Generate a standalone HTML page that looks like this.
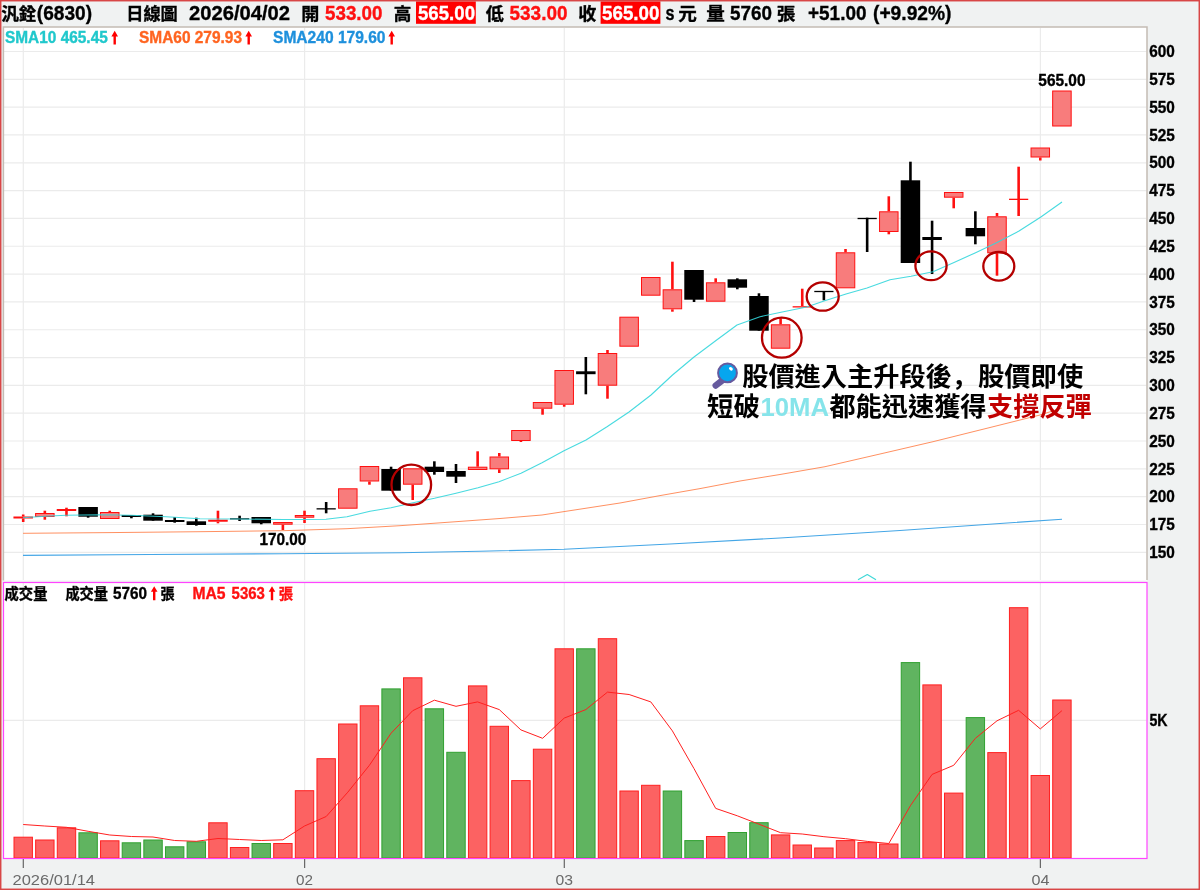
<!DOCTYPE html>
<html lang="zh-Hant"><head><meta charset="utf-8"><title>汎銓(6830) 日線圖</title>
<style>
html,body{margin:0;padding:0;background:#f0f2f2;}
body{width:1200px;height:890px;position:relative;overflow:hidden;font-family:"Liberation Sans","Noto Sans CJK TC",sans-serif;}
svg text{font-family:"Liberation Sans","Noto Sans CJK TC",sans-serif;}
</style></head><body>
<svg width="1200" height="890" viewBox="0 0 1200 890" style="position:absolute;left:0;top:0">
<rect x="0" y="0" width="1200" height="890" fill="#f0f2f2"/>
<rect x="3.5" y="27" width="1143.5" height="553.5" fill="#fff"/>
<rect x="3.5" y="582" width="1143.5" height="276" fill="#fff"/>
<line x1="4" x2="1146.5" y1="552.31" y2="552.31" stroke="#ebebeb" stroke-width="1.2"/>
<line x1="4" x2="1146.5" y1="524.48" y2="524.48" stroke="#ebebeb" stroke-width="1.2"/>
<line x1="4" x2="1146.5" y1="496.66" y2="496.66" stroke="#ebebeb" stroke-width="1.2"/>
<line x1="4" x2="1146.5" y1="468.84" y2="468.84" stroke="#ebebeb" stroke-width="1.2"/>
<line x1="4" x2="1146.5" y1="441.01" y2="441.01" stroke="#ebebeb" stroke-width="1.2"/>
<line x1="4" x2="1146.5" y1="413.19" y2="413.19" stroke="#ebebeb" stroke-width="1.2"/>
<line x1="4" x2="1146.5" y1="385.37" y2="385.37" stroke="#ebebeb" stroke-width="1.2"/>
<line x1="4" x2="1146.5" y1="357.55" y2="357.55" stroke="#ebebeb" stroke-width="1.2"/>
<line x1="4" x2="1146.5" y1="329.73" y2="329.73" stroke="#ebebeb" stroke-width="1.2"/>
<line x1="4" x2="1146.5" y1="301.90" y2="301.90" stroke="#ebebeb" stroke-width="1.2"/>
<line x1="4" x2="1146.5" y1="274.08" y2="274.08" stroke="#ebebeb" stroke-width="1.2"/>
<line x1="4" x2="1146.5" y1="246.26" y2="246.26" stroke="#ebebeb" stroke-width="1.2"/>
<line x1="4" x2="1146.5" y1="218.44" y2="218.44" stroke="#ebebeb" stroke-width="1.2"/>
<line x1="4" x2="1146.5" y1="190.61" y2="190.61" stroke="#ebebeb" stroke-width="1.2"/>
<line x1="4" x2="1146.5" y1="162.79" y2="162.79" stroke="#ebebeb" stroke-width="1.2"/>
<line x1="4" x2="1146.5" y1="134.97" y2="134.97" stroke="#ebebeb" stroke-width="1.2"/>
<line x1="4" x2="1146.5" y1="107.15" y2="107.15" stroke="#ebebeb" stroke-width="1.2"/>
<line x1="4" x2="1146.5" y1="79.32" y2="79.32" stroke="#ebebeb" stroke-width="1.2"/>
<line x1="4" x2="1146.5" y1="51.50" y2="51.50" stroke="#ebebeb" stroke-width="1.2"/>
<line x1="4" x2="1146.5" y1="720.3" y2="720.3" stroke="#ebebeb" stroke-width="1.2"/>
<line x1="23.30" x2="23.30" y1="28" y2="580" stroke="#ebebeb" stroke-width="1.2"/>
<line x1="23.30" x2="23.30" y1="583" y2="857.5" stroke="#ebebeb" stroke-width="1.2"/>
<line x1="23.30" x2="23.30" y1="858.5" y2="868" stroke="#666" stroke-width="1.2"/>
<line x1="304.62" x2="304.62" y1="28" y2="580" stroke="#ebebeb" stroke-width="1.2"/>
<line x1="304.62" x2="304.62" y1="583" y2="857.5" stroke="#ebebeb" stroke-width="1.2"/>
<line x1="304.62" x2="304.62" y1="858.5" y2="868" stroke="#666" stroke-width="1.2"/>
<line x1="564.30" x2="564.30" y1="28" y2="580" stroke="#ebebeb" stroke-width="1.2"/>
<line x1="564.30" x2="564.30" y1="583" y2="857.5" stroke="#ebebeb" stroke-width="1.2"/>
<line x1="564.30" x2="564.30" y1="858.5" y2="868" stroke="#666" stroke-width="1.2"/>
<line x1="1040.38" x2="1040.38" y1="28" y2="580" stroke="#ebebeb" stroke-width="1.2"/>
<line x1="1040.38" x2="1040.38" y1="583" y2="857.5" stroke="#ebebeb" stroke-width="1.2"/>
<line x1="1040.38" x2="1040.38" y1="858.5" y2="868" stroke="#666" stroke-width="1.2"/>
<path d="M3.4 580.5 V27 H1147 V580" fill="none" stroke="#c4bcb4" stroke-width="1.5"/>
<rect x="3.5" y="582.5" width="1143.5" height="276" fill="none" stroke="#ff44ff" stroke-width="1.2"/>
<polyline fill="none" stroke="#44a6e6" stroke-width="1.15" stroke-linejoin="round" points="23.0,555.3 150.0,554.5 283.0,553.7 400.0,552.7 480.0,551.2 564.0,549.3 670.0,544.0 780.0,538.0 900.0,530.5 1000.0,523.5 1062.0,519.3"/>
<polyline fill="none" stroke="#ff8a58" stroke-width="0.95" stroke-linejoin="round" points="23.0,533.3 110.0,532.6 200.0,531.7 283.0,530.7 347.0,528.7 400.0,525.7 456.0,521.7 500.0,518.5 542.0,515.0 564.0,511.6 620.0,503.0 660.0,495.6 700.0,488.6 740.0,481.0 780.0,474.5 825.0,466.7 880.0,454.0 933.0,441.7 990.0,427.5 1040.0,415.0 1062.0,408.0"/>
<line x1="23.20" x2="23.20" y1="514.50" y2="516.50" stroke="#ff1010" stroke-width="2.6"/>
<line x1="23.20" x2="23.20" y1="518.50" y2="522.00" stroke="#ff1010" stroke-width="2.6"/>
<rect x="13.95" y="517.00" width="18.5" height="1.00" fill="#f87c7c" stroke="#ff1010" stroke-width="1"/>
<line x1="44.84" x2="44.84" y1="510.70" y2="513.00" stroke="#ff1010" stroke-width="2.6"/>
<line x1="44.84" x2="44.84" y1="517.00" y2="519.70" stroke="#ff1010" stroke-width="2.6"/>
<rect x="35.59" y="513.50" width="18.5" height="3.00" fill="#f87c7c" stroke="#ff1010" stroke-width="1"/>
<line x1="66.48" x2="66.48" y1="507.70" y2="509.00" stroke="#ff1010" stroke-width="2.6"/>
<line x1="66.48" x2="66.48" y1="511.00" y2="516.30" stroke="#ff1010" stroke-width="2.6"/>
<rect x="57.23" y="509.50" width="18.5" height="1.00" fill="#f87c7c" stroke="#ff1010" stroke-width="1"/>
<line x1="88.12" x2="88.12" y1="507.00" y2="517.70" stroke="#000" stroke-width="2.6"/>
<rect x="78.37" y="507.00" width="19.5" height="9.70" fill="#000"/>
<line x1="109.76" x2="109.76" y1="510.70" y2="512.00" stroke="#ff1010" stroke-width="2.6"/>
<rect x="100.51" y="512.50" width="18.5" height="6.00" fill="#f87c7c" stroke="#ff1010" stroke-width="1"/>
<line x1="131.40" x2="131.40" y1="515.00" y2="518.30" stroke="#000" stroke-width="2.6"/>
<rect x="121.65" y="515.00" width="19.5" height="2.00" fill="#000"/>
<line x1="153.04" x2="153.04" y1="513.30" y2="520.70" stroke="#000" stroke-width="2.6"/>
<rect x="143.29" y="514.70" width="19.5" height="6.00" fill="#000"/>
<line x1="174.68" x2="174.68" y1="517.00" y2="522.70" stroke="#000" stroke-width="2.6"/>
<rect x="164.93" y="520.00" width="19.5" height="2.00" fill="#000"/>
<line x1="196.32" x2="196.32" y1="517.70" y2="525.70" stroke="#000" stroke-width="2.6"/>
<rect x="186.57" y="521.30" width="19.5" height="3.70" fill="#000"/>
<line x1="217.96" x2="217.96" y1="510.70" y2="519.70" stroke="#ff1010" stroke-width="2.6"/>
<line x1="217.96" x2="217.96" y1="521.70" y2="523.30" stroke="#ff1010" stroke-width="2.6"/>
<rect x="208.71" y="520.20" width="18.5" height="1.00" fill="#f87c7c" stroke="#ff1010" stroke-width="1"/>
<line x1="239.60" x2="239.60" y1="515.70" y2="521.00" stroke="#000" stroke-width="2.6"/>
<line x1="230.00" x2="249.20" y1="518.85" y2="518.85" stroke="#000" stroke-width="1.3"/>
<line x1="261.24" x2="261.24" y1="517.00" y2="524.30" stroke="#000" stroke-width="2.6"/>
<rect x="251.49" y="517.00" width="19.5" height="6.30" fill="#000"/>
<line x1="282.88" x2="282.88" y1="524.70" y2="530.00" stroke="#ff1010" stroke-width="2.6"/>
<rect x="273.63" y="522.50" width="18.5" height="1.70" fill="#f87c7c" stroke="#ff1010" stroke-width="1"/>
<line x1="304.52" x2="304.52" y1="510.70" y2="515.00" stroke="#ff1010" stroke-width="2.6"/>
<line x1="304.52" x2="304.52" y1="517.70" y2="523.00" stroke="#ff1010" stroke-width="2.6"/>
<rect x="295.27" y="515.50" width="18.5" height="1.70" fill="#f87c7c" stroke="#ff1010" stroke-width="1"/>
<line x1="326.16" x2="326.16" y1="502.00" y2="513.30" stroke="#000" stroke-width="2.6"/>
<line x1="316.56" x2="335.76" y1="508.85" y2="508.85" stroke="#000" stroke-width="1.3"/>
<rect x="338.55" y="488.80" width="18.5" height="19.40" fill="#f87c7c" stroke="#ff1010" stroke-width="1"/>
<line x1="369.44" x2="369.44" y1="481.50" y2="484.70" stroke="#ff1010" stroke-width="2.6"/>
<rect x="360.19" y="466.50" width="18.5" height="14.50" fill="#f87c7c" stroke="#ff1010" stroke-width="1"/>
<line x1="391.08" x2="391.08" y1="466.70" y2="490.70" stroke="#000" stroke-width="2.6"/>
<rect x="381.33" y="469.00" width="19.5" height="21.70" fill="#000"/>
<line x1="412.72" x2="412.72" y1="484.70" y2="500.00" stroke="#ff1010" stroke-width="2.6"/>
<rect x="403.47" y="468.80" width="18.5" height="15.40" fill="#f87c7c" stroke="#ff1010" stroke-width="1"/>
<line x1="434.36" x2="434.36" y1="461.30" y2="474.70" stroke="#000" stroke-width="2.6"/>
<rect x="424.61" y="466.70" width="19.5" height="5.30" fill="#000"/>
<line x1="456.00" x2="456.00" y1="464.00" y2="483.00" stroke="#000" stroke-width="2.6"/>
<rect x="446.25" y="471.00" width="19.5" height="5.70" fill="#000"/>
<line x1="477.64" x2="477.64" y1="451.30" y2="466.70" stroke="#ff1010" stroke-width="2.6"/>
<rect x="468.39" y="467.20" width="18.5" height="2.30" fill="#f87c7c" stroke="#ff1010" stroke-width="1"/>
<line x1="499.28" x2="499.28" y1="453.00" y2="456.50" stroke="#ff1010" stroke-width="2.6"/>
<line x1="499.28" x2="499.28" y1="469.30" y2="473.00" stroke="#ff1010" stroke-width="2.6"/>
<rect x="490.03" y="457.00" width="18.5" height="11.80" fill="#f87c7c" stroke="#ff1010" stroke-width="1"/>
<line x1="520.92" x2="520.92" y1="441.00" y2="442.00" stroke="#ff1010" stroke-width="2.6"/>
<rect x="511.67" y="430.50" width="18.5" height="10.00" fill="#f87c7c" stroke="#ff1010" stroke-width="1"/>
<line x1="542.56" x2="542.56" y1="408.70" y2="414.70" stroke="#ff1010" stroke-width="2.6"/>
<rect x="533.31" y="402.50" width="18.5" height="5.70" fill="#f87c7c" stroke="#ff1010" stroke-width="1"/>
<line x1="564.20" x2="564.20" y1="404.70" y2="406.70" stroke="#ff1010" stroke-width="2.6"/>
<rect x="554.95" y="370.50" width="18.5" height="33.70" fill="#f87c7c" stroke="#ff1010" stroke-width="1"/>
<line x1="585.84" x2="585.84" y1="357.00" y2="394.30" stroke="#000" stroke-width="2.6"/>
<rect x="576.09" y="371.30" width="19.5" height="2.90" fill="#000"/>
<line x1="607.48" x2="607.48" y1="350.00" y2="353.00" stroke="#ff1010" stroke-width="2.6"/>
<line x1="607.48" x2="607.48" y1="385.70" y2="398.70" stroke="#ff1010" stroke-width="2.6"/>
<rect x="598.23" y="353.50" width="18.5" height="31.70" fill="#f87c7c" stroke="#ff1010" stroke-width="1"/>
<rect x="619.87" y="317.20" width="18.5" height="29.00" fill="#f87c7c" stroke="#ff1010" stroke-width="1"/>
<rect x="641.51" y="277.50" width="18.5" height="17.70" fill="#f87c7c" stroke="#ff1010" stroke-width="1"/>
<line x1="672.40" x2="672.40" y1="261.70" y2="289.30" stroke="#ff1010" stroke-width="2.6"/>
<line x1="672.40" x2="672.40" y1="309.30" y2="311.70" stroke="#ff1010" stroke-width="2.6"/>
<rect x="663.15" y="289.80" width="18.5" height="19.00" fill="#f87c7c" stroke="#ff1010" stroke-width="1"/>
<line x1="694.04" x2="694.04" y1="270.00" y2="302.00" stroke="#000" stroke-width="2.6"/>
<rect x="684.29" y="270.00" width="19.5" height="29.70" fill="#000"/>
<line x1="715.68" x2="715.68" y1="278.30" y2="282.30" stroke="#ff1010" stroke-width="2.6"/>
<rect x="706.43" y="282.80" width="18.5" height="18.40" fill="#f87c7c" stroke="#ff1010" stroke-width="1"/>
<line x1="737.32" x2="737.32" y1="278.30" y2="289.30" stroke="#000" stroke-width="2.6"/>
<rect x="727.57" y="279.30" width="19.5" height="8.40" fill="#000"/>
<line x1="758.96" x2="758.96" y1="293.30" y2="330.70" stroke="#000" stroke-width="2.6"/>
<rect x="749.21" y="296.00" width="19.5" height="34.70" fill="#000"/>
<line x1="780.60" x2="780.60" y1="318.30" y2="324.30" stroke="#ff1010" stroke-width="2.6"/>
<rect x="771.35" y="324.80" width="18.5" height="23.40" fill="#f87c7c" stroke="#ff1010" stroke-width="1"/>
<line x1="802.24" x2="802.24" y1="288.70" y2="306.00" stroke="#ff1010" stroke-width="2.6"/>
<line x1="792.64" x2="811.84" y1="306.85" y2="306.85" stroke="#ff1010" stroke-width="1.3"/>
<line x1="823.88" x2="823.88" y1="291.00" y2="300.30" stroke="#000" stroke-width="2.6"/>
<line x1="814.28" x2="833.48" y1="291.50" y2="291.50" stroke="#000" stroke-width="1.3"/>
<line x1="845.52" x2="845.52" y1="249.00" y2="252.30" stroke="#ff1010" stroke-width="2.6"/>
<rect x="836.27" y="252.80" width="18.5" height="35.00" fill="#f87c7c" stroke="#ff1010" stroke-width="1"/>
<line x1="867.16" x2="867.16" y1="217.70" y2="252.00" stroke="#000" stroke-width="2.6"/>
<line x1="857.56" x2="876.76" y1="218.50" y2="218.50" stroke="#000" stroke-width="1.3"/>
<line x1="888.80" x2="888.80" y1="196.30" y2="211.30" stroke="#ff1010" stroke-width="2.6"/>
<line x1="888.80" x2="888.80" y1="232.00" y2="234.30" stroke="#ff1010" stroke-width="2.6"/>
<rect x="879.55" y="211.80" width="18.5" height="19.70" fill="#f87c7c" stroke="#ff1010" stroke-width="1"/>
<line x1="910.44" x2="910.44" y1="161.70" y2="263.00" stroke="#000" stroke-width="2.6"/>
<rect x="900.69" y="180.30" width="19.5" height="82.70" fill="#000"/>
<line x1="932.08" x2="932.08" y1="220.70" y2="274.00" stroke="#000" stroke-width="2.6"/>
<rect x="922.33" y="237.00" width="19.5" height="3.00" fill="#000"/>
<line x1="953.72" x2="953.72" y1="197.70" y2="208.30" stroke="#ff1010" stroke-width="2.6"/>
<rect x="944.47" y="192.50" width="18.5" height="4.70" fill="#f87c7c" stroke="#ff1010" stroke-width="1"/>
<line x1="975.36" x2="975.36" y1="211.30" y2="244.30" stroke="#000" stroke-width="2.6"/>
<rect x="965.61" y="228.00" width="19.5" height="8.30" fill="#000"/>
<line x1="997.00" x2="997.00" y1="213.00" y2="216.30" stroke="#ff1010" stroke-width="2.6"/>
<line x1="997.00" x2="997.00" y1="253.30" y2="275.70" stroke="#ff1010" stroke-width="2.6"/>
<rect x="987.75" y="216.80" width="18.5" height="36.00" fill="#f87c7c" stroke="#ff1010" stroke-width="1"/>
<line x1="1018.64" x2="1018.64" y1="166.70" y2="199.00" stroke="#ff1010" stroke-width="2.6"/>
<line x1="1018.64" x2="1018.64" y1="199.70" y2="216.00" stroke="#ff1010" stroke-width="2.6"/>
<line x1="1009.04" x2="1028.24" y1="199.35" y2="199.35" stroke="#ff1010" stroke-width="1.3"/>
<line x1="1040.28" x2="1040.28" y1="157.50" y2="160.50" stroke="#ff1010" stroke-width="2.6"/>
<rect x="1031.03" y="148.00" width="18.5" height="9.00" fill="#f87c7c" stroke="#ff1010" stroke-width="1"/>
<rect x="1052.67" y="91.00" width="18.5" height="35.00" fill="#f87c7c" stroke="#ff1010" stroke-width="1"/>
<g opacity="0.9">
<polyline fill="none" stroke="#34d6dc" stroke-width="1.10" stroke-linejoin="round" points="23.0,517.7 45.0,516.3 66.0,515.3 100.0,514.7 131.0,515.3 166.0,516.7 200.0,518.7 240.0,519.0 283.0,519.5 305.0,519.5 326.0,519.3 347.0,516.7 370.0,511.3 391.0,507.8 413.0,502.7 434.5,498.3 456.0,493.3 478.0,487.8 499.0,481.7 521.0,473.3 542.0,462.7 564.0,450.7 586.0,440.0 607.0,426.7 629.0,412.0 651.0,395.0 672.5,375.0 694.0,357.0 716.0,340.5 737.0,325.0 760.0,316.7 781.0,312.3 806.7,307.0 824.0,301.0 846.0,294.0 867.0,288.0 890.0,279.7 911.0,276.3 933.0,271.7 954.0,262.5 975.6,252.7 997.0,242.5 1019.0,231.0 1040.5,217.3 1062.0,202.0"/>
</g>
<polyline fill="none" stroke="#40d8d8" stroke-width="1.20" stroke-linejoin="round" points="858.0,579.7 867.3,574.5 876.0,579.7"/>
<rect x="14.00" y="837.20" width="18.4" height="20.90" fill="#fc6262" stroke="#ff2020" stroke-width="1"/>
<rect x="35.64" y="840.00" width="18.4" height="18.10" fill="#fc6262" stroke="#ff2020" stroke-width="1"/>
<rect x="57.28" y="827.80" width="18.4" height="30.30" fill="#fc6262" stroke="#ff2020" stroke-width="1"/>
<rect x="78.92" y="832.80" width="18.4" height="25.30" fill="#60b460" stroke="#30a030" stroke-width="1"/>
<rect x="100.56" y="840.80" width="18.4" height="17.30" fill="#fc6262" stroke="#ff2020" stroke-width="1"/>
<rect x="122.20" y="842.80" width="18.4" height="15.30" fill="#60b460" stroke="#30a030" stroke-width="1"/>
<rect x="143.84" y="840.00" width="18.4" height="18.10" fill="#60b460" stroke="#30a030" stroke-width="1"/>
<rect x="165.48" y="846.80" width="18.4" height="11.30" fill="#60b460" stroke="#30a030" stroke-width="1"/>
<rect x="187.12" y="841.80" width="18.4" height="16.30" fill="#60b460" stroke="#30a030" stroke-width="1"/>
<rect x="208.76" y="822.80" width="18.4" height="35.30" fill="#fc6262" stroke="#ff2020" stroke-width="1"/>
<rect x="230.40" y="847.50" width="18.4" height="10.60" fill="#fc6262" stroke="#ff2020" stroke-width="1"/>
<rect x="252.04" y="843.50" width="18.4" height="14.60" fill="#60b460" stroke="#30a030" stroke-width="1"/>
<rect x="273.68" y="843.50" width="18.4" height="14.60" fill="#fc6262" stroke="#ff2020" stroke-width="1"/>
<rect x="295.32" y="790.70" width="18.4" height="67.40" fill="#fc6262" stroke="#ff2020" stroke-width="1"/>
<rect x="316.96" y="758.70" width="18.4" height="99.40" fill="#fc6262" stroke="#ff2020" stroke-width="1"/>
<rect x="338.60" y="724.00" width="18.4" height="134.10" fill="#fc6262" stroke="#ff2020" stroke-width="1"/>
<rect x="360.24" y="705.80" width="18.4" height="152.30" fill="#fc6262" stroke="#ff2020" stroke-width="1"/>
<rect x="381.88" y="688.90" width="18.4" height="169.20" fill="#60b460" stroke="#30a030" stroke-width="1"/>
<rect x="403.52" y="677.80" width="18.4" height="180.30" fill="#fc6262" stroke="#ff2020" stroke-width="1"/>
<rect x="425.16" y="708.80" width="18.4" height="149.30" fill="#60b460" stroke="#30a030" stroke-width="1"/>
<rect x="446.80" y="752.30" width="18.4" height="105.80" fill="#60b460" stroke="#30a030" stroke-width="1"/>
<rect x="468.44" y="685.90" width="18.4" height="172.20" fill="#fc6262" stroke="#ff2020" stroke-width="1"/>
<rect x="490.08" y="726.30" width="18.4" height="131.80" fill="#fc6262" stroke="#ff2020" stroke-width="1"/>
<rect x="511.72" y="780.60" width="18.4" height="77.50" fill="#fc6262" stroke="#ff2020" stroke-width="1"/>
<rect x="533.36" y="749.20" width="18.4" height="108.90" fill="#fc6262" stroke="#ff2020" stroke-width="1"/>
<rect x="555.00" y="648.80" width="18.4" height="209.30" fill="#fc6262" stroke="#ff2020" stroke-width="1"/>
<rect x="576.64" y="648.80" width="18.4" height="209.30" fill="#60b460" stroke="#30a030" stroke-width="1"/>
<rect x="598.28" y="638.70" width="18.4" height="219.40" fill="#fc6262" stroke="#ff2020" stroke-width="1"/>
<rect x="619.92" y="791.00" width="18.4" height="67.10" fill="#fc6262" stroke="#ff2020" stroke-width="1"/>
<rect x="641.56" y="785.30" width="18.4" height="72.80" fill="#fc6262" stroke="#ff2020" stroke-width="1"/>
<rect x="663.20" y="791.00" width="18.4" height="67.10" fill="#60b460" stroke="#30a030" stroke-width="1"/>
<rect x="684.84" y="840.60" width="18.4" height="17.50" fill="#60b460" stroke="#30a030" stroke-width="1"/>
<rect x="706.48" y="836.50" width="18.4" height="21.60" fill="#fc6262" stroke="#ff2020" stroke-width="1"/>
<rect x="728.12" y="832.50" width="18.4" height="25.60" fill="#60b460" stroke="#30a030" stroke-width="1"/>
<rect x="749.76" y="822.70" width="18.4" height="35.40" fill="#60b460" stroke="#30a030" stroke-width="1"/>
<rect x="771.40" y="834.90" width="18.4" height="23.20" fill="#fc6262" stroke="#ff2020" stroke-width="1"/>
<rect x="793.04" y="845.00" width="18.4" height="13.10" fill="#fc6262" stroke="#ff2020" stroke-width="1"/>
<rect x="814.68" y="848.00" width="18.4" height="10.10" fill="#fc6262" stroke="#ff2020" stroke-width="1"/>
<rect x="836.32" y="840.60" width="18.4" height="17.50" fill="#fc6262" stroke="#ff2020" stroke-width="1"/>
<rect x="857.96" y="842.60" width="18.4" height="15.50" fill="#fc6262" stroke="#ff2020" stroke-width="1"/>
<rect x="879.60" y="844.00" width="18.4" height="14.10" fill="#fc6262" stroke="#ff2020" stroke-width="1"/>
<rect x="901.24" y="662.60" width="18.4" height="195.50" fill="#60b460" stroke="#30a030" stroke-width="1"/>
<rect x="922.88" y="684.90" width="18.4" height="173.20" fill="#fc6262" stroke="#ff2020" stroke-width="1"/>
<rect x="944.52" y="793.10" width="18.4" height="65.00" fill="#fc6262" stroke="#ff2020" stroke-width="1"/>
<rect x="966.16" y="717.60" width="18.4" height="140.50" fill="#60b460" stroke="#30a030" stroke-width="1"/>
<rect x="987.80" y="752.60" width="18.4" height="105.50" fill="#fc6262" stroke="#ff2020" stroke-width="1"/>
<rect x="1009.44" y="607.70" width="18.4" height="250.40" fill="#fc6262" stroke="#ff2020" stroke-width="1"/>
<rect x="1031.08" y="775.50" width="18.4" height="82.60" fill="#fc6262" stroke="#ff2020" stroke-width="1"/>
<rect x="1052.72" y="700.00" width="18.4" height="158.10" fill="#fc6262" stroke="#ff2020" stroke-width="1"/>
<polyline fill="none" stroke="#ff2020" stroke-width="1.00" stroke-linejoin="round" points="23.2,824.5 44.8,826.0 66.5,827.3 88.1,831.3 109.8,835.0 131.4,836.5 153.0,837.0 174.7,840.5 196.3,841.3 218.0,838.5 239.6,839.5 261.2,840.5 282.9,839.8 304.5,826.0 326.2,816.5 347.8,792.2 369.4,765.3 391.1,733.2 412.7,710.7 434.4,700.2 456.0,706.3 477.6,701.9 499.3,709.6 520.9,729.9 542.6,738.3 564.2,718.1 585.8,709.6 607.5,692.1 629.1,694.5 650.8,701.9 672.4,730.9 694.0,768.6 715.7,808.4 737.3,815.8 759.0,824.2 780.6,832.7 802.2,834.0 823.9,836.7 845.5,838.7 867.2,841.4 888.8,843.5 910.4,805.7 932.1,774.4 953.7,765.3 975.4,738.3 997.0,720.8 1018.6,710.3 1040.3,728.9 1061.9,710.7"/>
<line x1="4" x2="1146.5" y1="858.5" y2="858.5" stroke="#ff44ff" stroke-width="1.2"/>
<ellipse cx="411.3" cy="484.8" rx="19.8" ry="20.2" fill="none" stroke="#b40000" stroke-width="2.3"/>
<ellipse cx="781.8" cy="337.7" rx="19.8" ry="20.0" fill="none" stroke="#b40000" stroke-width="2.3"/>
<ellipse cx="822.7" cy="296.5" rx="16.0" ry="14.2" fill="none" stroke="#b40000" stroke-width="2.3"/>
<ellipse cx="931.0" cy="265.8" rx="15.6" ry="14.4" fill="none" stroke="#b40000" stroke-width="2.3"/>
<ellipse cx="998.8" cy="266.3" rx="15.5" ry="14.3" fill="none" stroke="#b40000" stroke-width="2.3"/>
<rect x="416" y="1.4" width="59.8" height="22.4" fill="#ff0000"/>
<rect x="600.6" y="1.4" width="59.8" height="22.4" fill="#ff0000"/>
<text x="1.20" y="20.10" font-size="17.30" fill="#000" font-weight="bold" text-anchor="start" textLength="35.20" lengthAdjust="spacingAndGlyphs" stroke="#000" stroke-width="0.35">汎銓</text>
<text x="36.80" y="19.60" font-size="20.00" fill="#000" font-weight="bold" text-anchor="start" textLength="55.20" lengthAdjust="spacingAndGlyphs" stroke="#000" stroke-width="0.35">(6830)</text>
<text x="126.20" y="20.10" font-size="17.30" fill="#000" font-weight="bold" text-anchor="start" textLength="51.60" lengthAdjust="spacingAndGlyphs" stroke="#000" stroke-width="0.35">日線圖</text>
<text x="189.00" y="19.60" font-size="20.00" fill="#000" font-weight="bold" text-anchor="start" textLength="101.00" lengthAdjust="spacingAndGlyphs" stroke="#000" stroke-width="0.35">2026/04/02</text>
<text x="301.20" y="20.10" font-size="17.30" fill="#000" font-weight="bold" text-anchor="start" textLength="18.10" lengthAdjust="spacingAndGlyphs" stroke="#000" stroke-width="0.35">開</text>
<text x="325.00" y="19.60" font-size="20.00" fill="#ff1010" font-weight="bold" text-anchor="start" textLength="57.50" lengthAdjust="spacingAndGlyphs" stroke="#ff1010" stroke-width="0.35">533.00</text>
<text x="393.70" y="20.10" font-size="17.30" fill="#000" font-weight="bold" text-anchor="start" textLength="17.60" lengthAdjust="spacingAndGlyphs" stroke="#000" stroke-width="0.35">高</text>
<text x="418.00" y="19.60" font-size="20.00" fill="#fff" font-weight="bold" text-anchor="start" textLength="57.00" lengthAdjust="spacingAndGlyphs" stroke="#fff" stroke-width="0.35">565.00</text>
<text x="485.70" y="20.10" font-size="17.30" fill="#000" font-weight="bold" text-anchor="start" textLength="18.10" lengthAdjust="spacingAndGlyphs" stroke="#000" stroke-width="0.35">低</text>
<text x="509.50" y="19.60" font-size="20.00" fill="#ff1010" font-weight="bold" text-anchor="start" textLength="58.00" lengthAdjust="spacingAndGlyphs" stroke="#ff1010" stroke-width="0.35">533.00</text>
<text x="578.20" y="20.10" font-size="17.30" fill="#000" font-weight="bold" text-anchor="start" textLength="18.10" lengthAdjust="spacingAndGlyphs" stroke="#000" stroke-width="0.35">收</text>
<text x="602.00" y="19.60" font-size="20.00" fill="#fff" font-weight="bold" text-anchor="start" textLength="57.50" lengthAdjust="spacingAndGlyphs" stroke="#fff" stroke-width="0.35">565.00</text>
<text x="665.50" y="19.60" font-size="20.00" fill="#000" font-weight="bold" text-anchor="start" textLength="9.00" lengthAdjust="spacingAndGlyphs" stroke="#000" stroke-width="0.35">s</text>
<text x="678.20" y="20.10" font-size="17.30" fill="#000" font-weight="bold" text-anchor="start" textLength="18.60" lengthAdjust="spacingAndGlyphs" stroke="#000" stroke-width="0.35">元</text>
<text x="706.20" y="20.10" font-size="17.30" fill="#000" font-weight="bold" text-anchor="start" textLength="18.60" lengthAdjust="spacingAndGlyphs" stroke="#000" stroke-width="0.35">量</text>
<text x="730.00" y="19.60" font-size="20.00" fill="#000" font-weight="bold" text-anchor="start" textLength="42.00" lengthAdjust="spacingAndGlyphs" stroke="#000" stroke-width="0.35">5760</text>
<text x="776.70" y="20.10" font-size="17.30" fill="#000" font-weight="bold" text-anchor="start" textLength="18.60" lengthAdjust="spacingAndGlyphs" stroke="#000" stroke-width="0.35">張</text>
<text x="808.00" y="19.60" font-size="20.00" fill="#000" font-weight="bold" text-anchor="start" textLength="58.50" lengthAdjust="spacingAndGlyphs" stroke="#000" stroke-width="0.35">+51.00</text>
<text x="873.00" y="19.60" font-size="20.00" fill="#000" font-weight="bold" text-anchor="start" textLength="78.50" lengthAdjust="spacingAndGlyphs" stroke="#000" stroke-width="0.35">(+9.92%)</text>
<text x="5.00" y="43.10" font-size="16.20" fill="#20c8cc" font-weight="bold" text-anchor="start" textLength="102.80" lengthAdjust="spacingAndGlyphs" stroke="#20c8cc" stroke-width="0.35">SMA10 465.45</text>
<path d="M114.70 30.80 L118.00 36.40 L115.90 36.40 L115.90 44.50 L113.50 44.50 L113.50 36.40 L111.40 36.40 Z" fill="#ff0000"/>
<text x="139.00" y="43.10" font-size="16.20" fill="#ff6420" font-weight="bold" text-anchor="start" textLength="103.00" lengthAdjust="spacingAndGlyphs" stroke="#ff6420" stroke-width="0.35">SMA60 279.93</text>
<path d="M248.70 30.80 L252.00 36.40 L249.90 36.40 L249.90 44.50 L247.50 44.50 L247.50 36.40 L245.40 36.40 Z" fill="#ff0000"/>
<text x="273.00" y="43.10" font-size="16.20" fill="#1e90dc" font-weight="bold" text-anchor="start" textLength="112.50" lengthAdjust="spacingAndGlyphs" stroke="#1e90dc" stroke-width="0.35">SMA240 179.60</text>
<path d="M391.70 30.80 L395.00 36.40 L392.90 36.40 L392.90 44.50 L390.50 44.50 L390.50 36.40 L388.40 36.40 Z" fill="#ff0000"/>
<text x="1149.30" y="558.01" font-size="16.50" fill="#000" font-weight="bold" text-anchor="start" textLength="25.60" lengthAdjust="spacingAndGlyphs" stroke="#000" stroke-width="0.35">150</text>
<text x="1149.30" y="530.18" font-size="16.50" fill="#000" font-weight="bold" text-anchor="start" textLength="25.60" lengthAdjust="spacingAndGlyphs" stroke="#000" stroke-width="0.35">175</text>
<text x="1149.30" y="502.36" font-size="16.50" fill="#000" font-weight="bold" text-anchor="start" textLength="25.60" lengthAdjust="spacingAndGlyphs" stroke="#000" stroke-width="0.35">200</text>
<text x="1149.30" y="474.54" font-size="16.50" fill="#000" font-weight="bold" text-anchor="start" textLength="25.60" lengthAdjust="spacingAndGlyphs" stroke="#000" stroke-width="0.35">225</text>
<text x="1149.30" y="446.71" font-size="16.50" fill="#000" font-weight="bold" text-anchor="start" textLength="25.60" lengthAdjust="spacingAndGlyphs" stroke="#000" stroke-width="0.35">250</text>
<text x="1149.30" y="418.89" font-size="16.50" fill="#000" font-weight="bold" text-anchor="start" textLength="25.60" lengthAdjust="spacingAndGlyphs" stroke="#000" stroke-width="0.35">275</text>
<text x="1149.30" y="391.07" font-size="16.50" fill="#000" font-weight="bold" text-anchor="start" textLength="25.60" lengthAdjust="spacingAndGlyphs" stroke="#000" stroke-width="0.35">300</text>
<text x="1149.30" y="363.25" font-size="16.50" fill="#000" font-weight="bold" text-anchor="start" textLength="25.60" lengthAdjust="spacingAndGlyphs" stroke="#000" stroke-width="0.35">325</text>
<text x="1149.30" y="335.43" font-size="16.50" fill="#000" font-weight="bold" text-anchor="start" textLength="25.60" lengthAdjust="spacingAndGlyphs" stroke="#000" stroke-width="0.35">350</text>
<text x="1149.30" y="307.60" font-size="16.50" fill="#000" font-weight="bold" text-anchor="start" textLength="25.60" lengthAdjust="spacingAndGlyphs" stroke="#000" stroke-width="0.35">375</text>
<text x="1149.30" y="279.78" font-size="16.50" fill="#000" font-weight="bold" text-anchor="start" textLength="25.60" lengthAdjust="spacingAndGlyphs" stroke="#000" stroke-width="0.35">400</text>
<text x="1149.30" y="251.96" font-size="16.50" fill="#000" font-weight="bold" text-anchor="start" textLength="25.60" lengthAdjust="spacingAndGlyphs" stroke="#000" stroke-width="0.35">425</text>
<text x="1149.30" y="224.13" font-size="16.50" fill="#000" font-weight="bold" text-anchor="start" textLength="25.60" lengthAdjust="spacingAndGlyphs" stroke="#000" stroke-width="0.35">450</text>
<text x="1149.30" y="196.31" font-size="16.50" fill="#000" font-weight="bold" text-anchor="start" textLength="25.60" lengthAdjust="spacingAndGlyphs" stroke="#000" stroke-width="0.35">475</text>
<text x="1149.30" y="168.49" font-size="16.50" fill="#000" font-weight="bold" text-anchor="start" textLength="25.60" lengthAdjust="spacingAndGlyphs" stroke="#000" stroke-width="0.35">500</text>
<text x="1149.30" y="140.67" font-size="16.50" fill="#000" font-weight="bold" text-anchor="start" textLength="25.60" lengthAdjust="spacingAndGlyphs" stroke="#000" stroke-width="0.35">525</text>
<text x="1149.30" y="112.85" font-size="16.50" fill="#000" font-weight="bold" text-anchor="start" textLength="25.60" lengthAdjust="spacingAndGlyphs" stroke="#000" stroke-width="0.35">550</text>
<text x="1149.30" y="85.02" font-size="16.50" fill="#000" font-weight="bold" text-anchor="start" textLength="25.60" lengthAdjust="spacingAndGlyphs" stroke="#000" stroke-width="0.35">575</text>
<text x="1149.30" y="57.20" font-size="16.50" fill="#000" font-weight="bold" text-anchor="start" textLength="25.60" lengthAdjust="spacingAndGlyphs" stroke="#000" stroke-width="0.35">600</text>
<text x="1149.50" y="726.00" font-size="16.50" fill="#000" font-weight="bold" text-anchor="start" textLength="18.10" lengthAdjust="spacingAndGlyphs" stroke="#000" stroke-width="0.35">5K</text>
<text x="1038.30" y="86.20" font-size="15.90" fill="#000" font-weight="bold" text-anchor="start" textLength="47.20" lengthAdjust="spacingAndGlyphs" stroke="#000" stroke-width="0.35">565.00</text>
<text x="259.40" y="544.80" font-size="15.90" fill="#000" font-weight="bold" text-anchor="start" textLength="46.90" lengthAdjust="spacingAndGlyphs" stroke="#000" stroke-width="0.35">170.00</text>
<text x="4.60" y="598.70" font-size="14.50" fill="#000" font-weight="bold" text-anchor="start" textLength="42.80" lengthAdjust="spacingAndGlyphs" stroke="#000" stroke-width="0.35">成交量</text>
<text x="65.40" y="598.70" font-size="14.50" fill="#000" font-weight="bold" text-anchor="start" textLength="42.60" lengthAdjust="spacingAndGlyphs" stroke="#000" stroke-width="0.35">成交量</text>
<text x="113.00" y="599.10" font-size="15.60" fill="#000" font-weight="bold" text-anchor="start" textLength="34.00" lengthAdjust="spacingAndGlyphs" stroke="#000" stroke-width="0.35">5760</text>
<path d="M154.20 586.20 L157.50 591.80 L155.40 591.80 L155.40 600.30 L153.00 600.30 L153.00 591.80 L150.90 591.80 Z" fill="#ff0000"/>
<text x="160.50" y="598.70" font-size="14.50" fill="#000" font-weight="bold" text-anchor="start" textLength="14.10" lengthAdjust="spacingAndGlyphs" stroke="#000" stroke-width="0.35">張</text>
<text x="192.50" y="599.10" font-size="15.60" fill="#ff1010" font-weight="bold" text-anchor="start" textLength="33.10" lengthAdjust="spacingAndGlyphs" stroke="#ff1010" stroke-width="0.35">MA5</text>
<text x="231.60" y="599.10" font-size="15.60" fill="#ff1010" font-weight="bold" text-anchor="start" textLength="33.20" lengthAdjust="spacingAndGlyphs" stroke="#ff1010" stroke-width="0.35">5363</text>
<path d="M272.00 586.20 L275.30 591.80 L273.20 591.80 L273.20 600.30 L270.80 600.30 L270.80 591.80 L268.70 591.80 Z" fill="#ff0000"/>
<text x="278.70" y="598.70" font-size="14.50" fill="#ff1010" font-weight="bold" text-anchor="start" textLength="14.30" lengthAdjust="spacingAndGlyphs" stroke="#ff1010" stroke-width="0.35">張</text>
<text x="12.50" y="884.60" font-size="15.50" fill="#6a6a6a" font-weight="normal" text-anchor="start" textLength="82.50" lengthAdjust="spacingAndGlyphs">2026/01/14</text>
<text x="296.00" y="884.60" font-size="15.50" fill="#6a6a6a" font-weight="normal" text-anchor="start" textLength="17.00" lengthAdjust="spacingAndGlyphs">02</text>
<text x="555.50" y="884.60" font-size="15.50" fill="#6a6a6a" font-weight="normal" text-anchor="start" textLength="17.50" lengthAdjust="spacingAndGlyphs">03</text>
<text x="1031.50" y="884.60" font-size="15.50" fill="#6a6a6a" font-weight="normal" text-anchor="start" textLength="18.00" lengthAdjust="spacingAndGlyphs">04</text>
<text x="742.20" y="385.80" font-size="25.60" fill="#000" font-weight="bold" text-anchor="start" textLength="209.60" lengthAdjust="spacingAndGlyphs" stroke="none">股價進入主升段後</text>
<text x="951.80" y="385.80" font-size="25.60" fill="#000" font-weight="bold" text-anchor="start" textLength="26.10" lengthAdjust="spacingAndGlyphs" stroke="none" style="font-family:'Liberation Sans','Noto Sans CJK SC',sans-serif">，</text>
<text x="977.90" y="385.80" font-size="25.60" fill="#000" font-weight="bold" text-anchor="start" textLength="105.40" lengthAdjust="spacingAndGlyphs" stroke="none">股價即使</text>
<text x="707.00" y="416.20" font-size="25.60" fill="#000" font-weight="bold" text-anchor="start" textLength="53.00" lengthAdjust="spacingAndGlyphs" stroke="none">短破</text>
<text x="760.50" y="416.20" font-size="25.60" fill="#86e4ea" font-weight="bold" text-anchor="start" textLength="68.50" lengthAdjust="spacingAndGlyphs" stroke="none">10MA</text>
<text x="829.50" y="416.20" font-size="25.60" fill="#000" font-weight="bold" text-anchor="start" textLength="157.00" lengthAdjust="spacingAndGlyphs" stroke="none">都能迅速獲得</text>
<text x="987.00" y="416.20" font-size="25.60" fill="#c00000" font-weight="bold" text-anchor="start" textLength="104.80" lengthAdjust="spacingAndGlyphs" stroke="none">支撐反彈</text>
<g><line x1="721.4" y1="381.1" x2="715.7" y2="385.5" stroke="#665a9e" stroke-width="6.4" stroke-linecap="round"/><circle cx="727.5" cy="372.9" r="9.4" fill="#06a6ee" stroke="#665a9e" stroke-width="2"/><ellipse cx="730.9" cy="368.8" rx="2.1" ry="1.6" fill="#fff" transform="rotate(35 730.9 368.8)"/></g>
<rect x="0.7" y="0.7" width="1198.6" height="888.6" fill="none" stroke="#d84646" stroke-width="1.5"/>
</svg>
</body></html>
